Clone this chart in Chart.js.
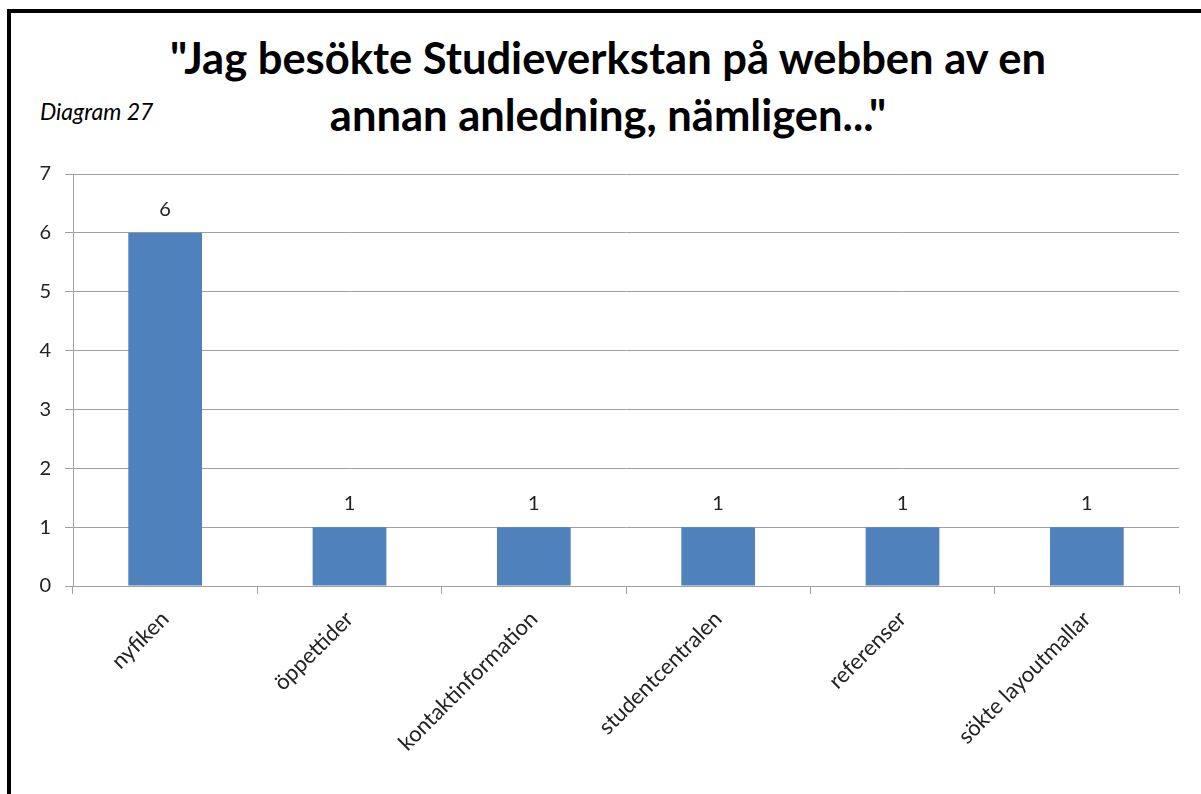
<!DOCTYPE html>
<html lang="sv">
<head>
<meta charset="utf-8">
<title>Diagram 27</title>
<script src="https://cdn.jsdelivr.net/npm/chart.js@4.4.1/dist/chart.umd.min.js"></script>
<style>
  html, body { margin: 0; padding: 0; background: #fff; }
  body { width: 1201px; height: 794px; position: relative; overflow: hidden; font-family: Lato, sans-serif; }
  .frame {
    position: absolute; left: 7px; top: 9px; width: 1194px; height: 785px;
    border-left: 4px solid #000; border-top: 4px solid #000; box-sizing: border-box;
  }
  .title {
    position: absolute; left: 108px; width: 1000px; top: 29px;
    text-align: center; font-weight: bold; font-size: 43.5px; line-height: 57px; color: #000;
  }
  .caption {
    position: absolute; left: 40px; top: 97px; font-style: italic; font-size: 23px; color: #000;
  }
  #wrap { position: absolute; left: 0; top: 0; width: 1201px; height: 794px; }
</style>
</head>
<body>
<div class="frame"></div>
<div class="title">"Jag besökte Studieverkstan på webben av en<br>annan anledning, nämligen..."</div>
<div class="caption">Diagram 27</div>
<div id="wrap"><canvas id="chart"></canvas></div>
<script>
const kategorier = ['nyfiken', 'öppettider', 'kontaktinformation', 'studentcentralen', 'referenser', 'sökte layoutmallar'];
const antal = [6, 1, 1, 1, 1, 1];
const yTicks = [0, 1, 2, 3, 4, 5, 6, 7];

// etiketter ovanför staplarna
const stapelEtiketter = {
  id: 'stapelEtiketter',
  afterDatasetsDraw(chart) {
    const ctx = chart.ctx;
    const meta = chart.getDatasetMeta(0);
    ctx.save();
    ctx.font = '20px Lato';
    ctx.fillStyle = '#222';
    ctx.textAlign = 'center';
    ctx.textBaseline = 'alphabetic';
    meta.data.forEach((bar, i) => {
      ctx.fillText(antal[i], bar.x, bar.y - 17);
    });
    ctx.restore();
  }
};

const ctx = document.getElementById('chart').getContext('2d');
new Chart(ctx, {
  type: 'bar',
  data: {
    labels: kategorier,
    datasets: [{
      data: antal,
      backgroundColor: '#4F81BD',
      borderWidth: 0,
      categoryPercentage: 1,
      barPercentage: 0.4
    }]
  },
  plugins: [stapelEtiketter],
  options: {
    responsive: true,
    maintainAspectRatio: false,
    animation: false,
    layout: { padding: { top: 174, right: 22, bottom: 0, left: 0 } },
    plugins: {
      legend: { display: false },
      tooltip: { enabled: false }
    },
    scales: {
      y: {
        min: 0,
        max: 7,
        afterBuildTicks: (scale) => { scale.ticks = yTicks.map(v => ({ value: v })); },
        afterFit: (scale) => { scale.width = 73; },
        border: { color: '#a0a0a0', width: 1 },
        grid: { color: '#a0a0a0', lineWidth: 1, tickLength: 8 },
        ticks: { color: '#222', padding: 14, font: { family: 'Lato', size: 20 } }
      },
      x: {
        afterFit: (scale) => { scale.height = 794 - 586; },
        border: { color: '#a0a0a0', width: 1 },
        grid: { drawOnChartArea: false, color: '#a0a0a0', tickLength: 8 },
        ticks: {
          color: '#222', padding: 12, autoSkip: false,
          minRotation: 45, maxRotation: 45,
          font: { family: 'Lato', size: 22 }
        }
      }
    }
  }
});
</script>
</body>
</html>
